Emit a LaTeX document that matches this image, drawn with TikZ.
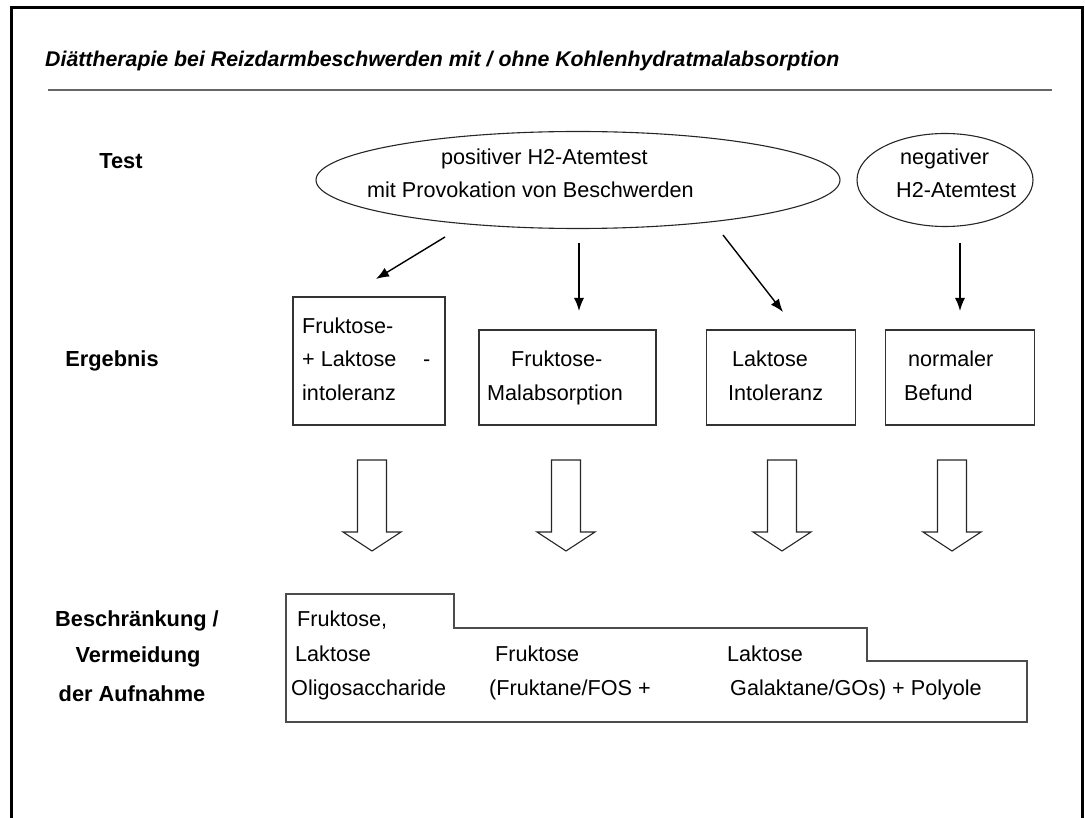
\documentclass[tikz,border=0pt]{standalone}
\usepackage{fontspec}
\setmainfont{Liberation Sans}
\usetikzlibrary{arrows.meta,shapes.geometric}
\begin{document}
\begin{tikzpicture}[x=1pt,y=-1pt,
  txt/.style={font=\fontsize{21.6}{25}\selectfont, inner sep=0pt, anchor=mid west},
  lbl/.style={font=\fontsize{21.8}{25}\selectfont\bfseries, inner sep=0pt},
  box/.style={draw=black!80, line width=1.3pt},
  ell/.style={ellipse, draw=black!85, line width=1.1pt, inner sep=0pt},
  arr/.style={-{Latex[length=13pt,width=10pt]}, line width=1.4pt},
  blk/.style={draw=black!85, line width=1.1pt, fill=white, line join=miter}]
\useasboundingbox (0,0) rectangle (1085,818);
% frame
\draw[line width=3pt] (11,818) -- (11,8) -- (1082,8) -- (1082,818);
% title
\node[anchor=mid west, inner sep=0pt, font=\fontsize{21.3}{25}\selectfont\bfseries\itshape] (title) at (45,64)
  {Diättherapie bei Reizdarmbeschwerden mit / ohne Kohlenhydratmalabsorption};
\draw[black!60, line width=1.6pt] (48,90) -- (1052,90);
% row labels
\node[lbl] (ltest) at (121,161) {Test};
\node[lbl] (lerg) at (112,361) {Ergebnis};
\node[lbl] (lb1) at (137,621) {Beschränkung /};
\node[lbl] (lb2) at (138,657) {Vermeidung};
\node[lbl] (lb3) at (132,694) {der Aufnahme};
% ellipses
\node[ell, minimum width=524pt, minimum height=97pt] (pos) at (578,180) {};
\node[txt] (pos1) at (441,162) {positiver H2-Atemtest};
\node[txt] (pos2) at (367,195) {mit Provokation von Beschwerden};
\node[ell, minimum width=176pt, minimum height=93pt] (neg) at (945,180) {};
\node[txt] (neg1) at (900,162) {negativer};
\node[txt] (neg2) at (896,195) {H2-Atemtest};
% result boxes
\node[box, minimum width=152pt, minimum height=128pt, inner sep=0pt] (b1) at (369,361) {};
\node[box, minimum width=177pt, minimum height=95pt, inner sep=0pt] (b2) at (567.5,377.5) {};
\node[box, minimum width=149pt, minimum height=95pt, inner sep=0pt] (b3) at (781,377.5) {};
\node[box, minimum width=149pt, minimum height=95pt, inner sep=0pt] (b4) at (960,377.5) {};
\node[txt] (b1a) at (302,331) {Fruktose-};
\node[txt] (b1b) at (302,364) {+ Laktose};
\node[txt] (b1c) at (423,364) {-};
\node[txt] (b1d) at (302,398) {intoleranz};
\node[txt] (b2a) at (511,364) {Fruktose-};
\node[txt] (b2b) at (487,398) {Malabsorption};
\node[txt] (b3a) at (732,364) {Laktose};
\node[txt] (b3b) at (728,398) {Intoleranz};
\node[txt] (b4a) at (908,364) {normaler};
\node[txt] (b4b) at (904,398) {Befund};
% thin arrows
\coordinate (a1s) at (445,237); \coordinate (a1e) at (376,279);
\coordinate (a2s) at (579,243); \coordinate (a2e) at (579,311);
\coordinate (a3s) at (723,235); \coordinate (a3e) at (783,312);
\coordinate (a4s) at (960,243); \coordinate (a4e) at (960,311);
\draw[arr] (a1s) -- (a1e);
\draw[arr] (a2s) -- (a2e);
\draw[arr] (a3s) -- (a3e);
\draw[arr] (a4s) -- (a4e);
% block arrows
\foreach \c in {372,566,782,952}{
  \draw[blk] (\c-14.5,460) -- (\c+14.5,460) -- (\c+14.5,532) -- (\c+29,532)
    -- (\c,551) -- (\c-29,532) -- (\c-14.5,532) -- cycle;
}
% step box
\draw[draw=black!70, line width=1.3pt] (286,594) -- (454,594) -- (454,628) -- (867,628)
  -- (867,661) -- (1027,661) -- (1027,722) -- (286,722) -- cycle;
\node[txt] (s1) at (297,624) {Fruktose,};
\node[txt] (s2) at (295,659) {Laktose};
\node[txt] (s3) at (291,693) {Oligosaccharide};
\node[txt] (s4) at (495,659) {Fruktose};
\node[txt] (s5) at (489,693) {(Fruktane/FOS +};
\node[txt] (s6) at (727,659) {Laktose};
\node[txt] (s7) at (730,693) {Galaktane/GOs) + Polyole};
\end{tikzpicture}
\end{document}
